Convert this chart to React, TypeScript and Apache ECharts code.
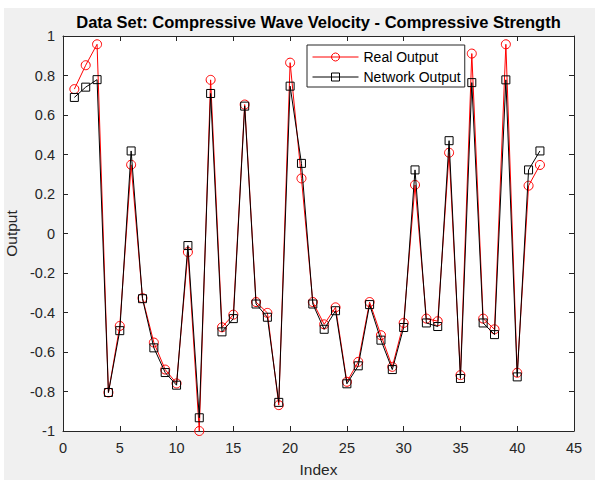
import React, { useEffect, useRef } from "react";
import * as echarts from "echarts";

const indices = [1, 2, 3, 4, 5, 6, 7, 8, 9, 10, 11, 12, 13, 14, 15, 16, 17, 18, 19, 20, 21, 22, 23, 24, 25, 26, 27, 28, 29, 30, 31, 32, 33, 34, 35, 36, 37, 38, 39, 40, 41, 42];

const realOutput = [
  0.731, 0.852, 0.958, -0.805, -0.468, 0.348, -0.327, -0.552, -0.689, -0.759,
  -0.094, -1.0, 0.778, -0.475, -0.411, 0.653, -0.347, -0.402, -0.869, 0.865,
  0.279, -0.347, -0.46, -0.374, -0.751, -0.65, -0.347, -0.515, -0.675, -0.453,
  0.246, -0.431, -0.444, 0.409, -0.717, 0.911, -0.431, -0.485, 0.958, -0.705,
  0.242, 0.347,
];

const networkOutput = [
  0.689, 0.741, 0.779, -0.805, -0.492, 0.418, -0.33, -0.579, -0.704, -0.768,
  -0.061, -0.933, 0.709, -0.498, -0.431, 0.645, -0.357, -0.424, -0.855, 0.746,
  0.355, -0.357, -0.485, -0.391, -0.761, -0.67, -0.36, -0.54, -0.689, -0.476,
  0.322, -0.453, -0.471, 0.47, -0.734, 0.764, -0.453, -0.512, 0.778, -0.726,
  0.322, 0.418,
];

const titleText = "Data Set: Compressive Wave Velocity - Compressive Strength";
const seriesNames = ["Real Output", "Network Output"];

const FONT = "'Liberation Sans', Arial, Helvetica, sans-serif";
const AXIS = "#262626";

export default function App() {
  const ref = useRef<HTMLDivElement>(null);

  useEffect(() => {
    if (!ref.current) return;
    const chart = echarts.init(ref.current, undefined, { renderer: "svg" });
    const realData = indices.map((x, i) => [x, realOutput[i]]);
    const netData = indices.map((x, i) => [x, networkOutput[i]]);

    const tickCommon = {
      axisLine: { show: true, onZero: false, lineStyle: { color: AXIS, width: 1 } },
      axisTick: { show: true, inside: true, length: 5, lineStyle: { color: AXIS, width: 1 } },
      splitLine: { show: false },
    };

    chart.setOption({
      animation: false,
      backgroundColor: "transparent",
      textStyle: { fontFamily: FONT },
      grid: {
        left: 59,
        top: 28,
        right: 21,
        bottom: 49,
        containLabel: false,
        outerBoundsMode: "none",
        show: true,
        backgroundColor: "#ffffff",
        borderWidth: 0,
      },
      graphic: [
        {
          type: "text",
          x: 314.5,
          y: 14,
          style: {
            text: titleText,
            fontFamily: FONT,
            fontSize: 16.5,
            fontWeight: "bold",
            fill: "#000000",
            textAlign: "center",
            textVerticalAlign: "middle",
          },
        },
      ],
      legend: {
        orient: "vertical",
        left: 303,
        top: 37,
        itemWidth: 46,
        itemHeight: 10,
        itemGap: 6,
        padding: [5, 4, 3, 5],
        borderColor: AXIS,
        borderWidth: 1,
        backgroundColor: "#ffffff",
        borderRadius: 0,
        lineStyle: { width: 1 },
        itemStyle: { borderWidth: 1 },
        textStyle: { fontFamily: FONT, fontSize: 14, color: "#000000" },
        data: seriesNames,
      },
      xAxis: [
        {
          type: "value",
          min: 0,
          max: 45,
          interval: 5,
          name: "Index",
          nameLocation: "middle",
          nameGap: 30,
          nameTextStyle: { fontFamily: FONT, fontSize: 15.5, color: AXIS },
          axisLabel: { fontFamily: FONT, fontSize: 14.5, color: AXIS, margin: 9 },
          ...tickCommon,
        },
        {
          type: "value",
          position: "top",
          min: 0,
          max: 45,
          interval: 5,
          axisLabel: { show: false },
          ...tickCommon,
        },
      ],
      yAxis: [
        {
          type: "value",
          min: -1,
          max: 1,
          interval: 0.2,
          name: "Output",
          nameLocation: "middle",
          nameGap: 39,
          nameTextStyle: { fontFamily: FONT, fontSize: 15.5, color: AXIS },
          axisLabel: {
            fontFamily: FONT,
            fontSize: 14.5,
            color: AXIS,
            margin: 8,
            formatter: (v: number) => String(Math.round(v * 10) / 10),
          },
          ...tickCommon,
        },
        {
          type: "value",
          position: "right",
          min: -1,
          max: 1,
          interval: 0.2,
          axisLabel: { show: false },
          ...tickCommon,
        },
      ],
      series: [
        {
          name: seriesNames[0],
          type: "line",
          data: realData,
          symbol: "circle",
          symbolSize: 9,
          showAllSymbol: true,
          lineStyle: { color: "#ff0000", width: 1 },
          itemStyle: { color: "rgba(0,0,0,0)", borderColor: "#ff0000", borderWidth: 1 },
          emphasis: { disabled: true },
          z: 2,
        },
        {
          name: seriesNames[1],
          type: "line",
          data: netData,
          symbol: "rect",
          symbolSize: 8,
          showAllSymbol: true,
          lineStyle: { color: "#000000", width: 1 },
          itemStyle: { color: "rgba(0,0,0,0)", borderColor: "#000000", borderWidth: 1 },
          emphasis: { disabled: true },
          z: 3,
        },
      ],
    });
    return () => chart.dispose();
  }, []);

  return (
    <div style={{ position: "absolute", left: 0, top: 0, width: 595, height: 480, background: "#ffffff" }}>
      <div
        ref={ref}
        style={{ position: "absolute", left: 4, top: 8, width: 591, height: 472, background: "#f0f0f0" }}
      />
    </div>
  );
}
